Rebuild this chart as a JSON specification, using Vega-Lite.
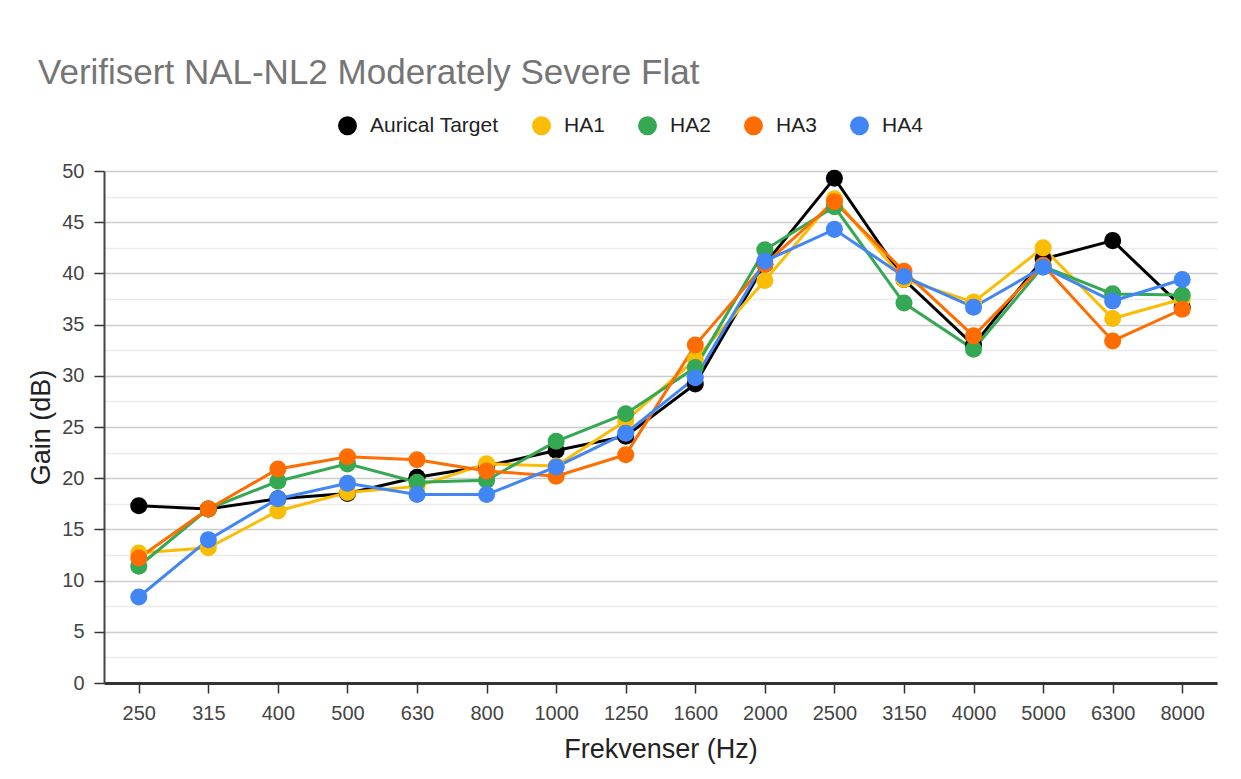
{
  "$schema": "https://vega.github.io/schema/vega-lite/v6.json",
  "autosize": "none",
  "width": 1113,
  "height": 512,
  "padding": {"left": 104, "top": 171, "right": 24, "bottom": 96},
  "background": "white",
  "config": {
    "font": "Liberation Sans",
    "view": {"stroke": null},
    "title": {"fontSize": 35, "fontWeight": "normal", "color": "#757575", "anchor": "start", "frame": "group"}
  },
  "title": {"text": "Verifisert NAL-NL2 Moderately Severe Flat", "dx": -66, "dy": 62, "baseline": "alphabetic", "offset": 58},
  "data": {"values": [
    {"f":"250","s":"Aurical Target","v":17.3},{"f":"315","s":"Aurical Target","v":17.0},{"f":"400","s":"Aurical Target","v":18.0},{"f":"500","s":"Aurical Target","v":18.5},
    {"f":"630","s":"Aurical Target","v":20.1},{"f":"800","s":"Aurical Target","v":21.2},{"f":"1000","s":"Aurical Target","v":22.7},{"f":"1250","s":"Aurical Target","v":24.1},
    {"f":"1600","s":"Aurical Target","v":29.2},{"f":"2000","s":"Aurical Target","v":40.9},{"f":"2500","s":"Aurical Target","v":49.3},{"f":"3150","s":"Aurical Target","v":39.4},
    {"f":"4000","s":"Aurical Target","v":33.0},{"f":"5000","s":"Aurical Target","v":41.4},{"f":"6300","s":"Aurical Target","v":43.2},{"f":"8000","s":"Aurical Target","v":36.7},
    {"f":"250","s":"HA1","v":12.7},{"f":"315","s":"HA1","v":13.2},{"f":"400","s":"HA1","v":16.8},{"f":"500","s":"HA1","v":18.6},
    {"f":"630","s":"HA1","v":19.2},{"f":"800","s":"HA1","v":21.4},{"f":"1000","s":"HA1","v":21.2},{"f":"1250","s":"HA1","v":25.6},
    {"f":"1600","s":"HA1","v":31.6},{"f":"2000","s":"HA1","v":39.3},{"f":"2500","s":"HA1","v":47.3},{"f":"3150","s":"HA1","v":39.4},
    {"f":"4000","s":"HA1","v":37.2},{"f":"5000","s":"HA1","v":42.5},{"f":"6300","s":"HA1","v":35.6},{"f":"8000","s":"HA1","v":37.5},
    {"f":"250","s":"HA2","v":11.4},{"f":"315","s":"HA2","v":17.0},{"f":"400","s":"HA2","v":19.7},{"f":"500","s":"HA2","v":21.4},
    {"f":"630","s":"HA2","v":19.6},{"f":"800","s":"HA2","v":19.8},{"f":"1000","s":"HA2","v":23.6},{"f":"1250","s":"HA2","v":26.3},
    {"f":"1600","s":"HA2","v":30.8},{"f":"2000","s":"HA2","v":42.3},{"f":"2500","s":"HA2","v":46.5},{"f":"3150","s":"HA2","v":37.1},
    {"f":"4000","s":"HA2","v":32.6},{"f":"5000","s":"HA2","v":40.7},{"f":"6300","s":"HA2","v":38.0},{"f":"8000","s":"HA2","v":37.9},
    {"f":"250","s":"HA3","v":12.2},{"f":"315","s":"HA3","v":17.0},{"f":"400","s":"HA3","v":20.9},{"f":"500","s":"HA3","v":22.1},
    {"f":"630","s":"HA3","v":21.8},{"f":"800","s":"HA3","v":20.7},{"f":"1000","s":"HA3","v":20.2},{"f":"1250","s":"HA3","v":22.3},
    {"f":"1600","s":"HA3","v":33.0},{"f":"2000","s":"HA3","v":40.9},{"f":"2500","s":"HA3","v":47.0},{"f":"3150","s":"HA3","v":40.2},
    {"f":"4000","s":"HA3","v":33.9},{"f":"5000","s":"HA3","v":40.8},{"f":"6300","s":"HA3","v":33.4},{"f":"8000","s":"HA3","v":36.5},
    {"f":"250","s":"HA4","v":8.4},{"f":"315","s":"HA4","v":14.0},{"f":"400","s":"HA4","v":18.0},{"f":"500","s":"HA4","v":19.5},
    {"f":"630","s":"HA4","v":18.4},{"f":"800","s":"HA4","v":18.4},{"f":"1000","s":"HA4","v":21.1},{"f":"1250","s":"HA4","v":24.4},
    {"f":"1600","s":"HA4","v":29.8},{"f":"2000","s":"HA4","v":41.2},{"f":"2500","s":"HA4","v":44.3},{"f":"3150","s":"HA4","v":39.7},
    {"f":"4000","s":"HA4","v":36.7},{"f":"5000","s":"HA4","v":40.6},{"f":"6300","s":"HA4","v":37.3},{"f":"8000","s":"HA4","v":39.4}
  ]},
  "encoding": {
    "x": {
      "field": "f", "type": "ordinal",
      "sort": ["250","315","400","500","630","800","1000","1250","1600","2000","2500","3150","4000","5000","6300","8000"],
      "scale": {"type": "point", "padding": 0.5},
      "axis": {
        "title": "Frekvenser (Hz)", "titleFontSize": 27, "titleFontWeight": "normal", "titleColor": "#222", "titlePadding": 13,
        "labelAngle": 0, "labelFontSize": 20, "labelColor": "#444", "labelPadding": 10,
        "domainColor": "#333", "domainWidth": 3, "tickColor": "#333", "tickWidth": 1.5, "tickSize": 10, "grid": false
      }
    },
    "y": {
      "field": "v", "type": "quantitative",
      "scale": {"domain": [0, 50], "nice": false, "zero": true},
      "axis": {
        "title": "Gain (dB)", "titleFontSize": 27, "titleFontWeight": "normal", "titleColor": "#222", "titlePadding": 6,
        "values": [0,2.5,5,7.5,10,12.5,15,17.5,20,22.5,25,27.5,30,32.5,35,37.5,40,42.5,45,47.5,50],
        "labelExpr": "datum.value % 5 === 0 ? datum.label : ''",
        "labelFontSize": 20, "labelColor": "#444", "labelPadding": 10,
        "domainColor": "#444", "domainWidth": 2,
        "tickColor": {"condition": {"test": "datum.value % 5 === 0", "value": "#333"}, "value": "transparent"},
        "tickWidth": 1.5, "tickSize": 10,
        "grid": true,
        "gridColor": {"condition": {"test": "datum.value % 5 === 0", "value": "#cccccc"}, "value": "#ebebeb"},
        "gridWidth": 1.5
      }
    },
    "color": {
      "field": "s", "type": "nominal",
      "scale": {"domain": ["Aurical Target","HA1","HA2","HA3","HA4"], "range": ["#000000","#fbbc04","#34a853","#ff6d01","#4285f4"]},
      "legend": {
        "title": null, "orient": "none", "direction": "horizontal", "legendX": 233, "legendY": -56,
        "symbolType": "circle", "symbolSize": 360, "symbolStrokeWidth": 0,
        "labelFontSize": 21, "labelColor": "#222", "labelOffset": 12, "columnPadding": 32
      }
    }
  },
  "layer": [
    {"mark": {"type": "line", "strokeWidth": 3}},
    {"mark": {"type": "point", "filled": true, "size": 290, "opacity": 1}}
  ]
}
